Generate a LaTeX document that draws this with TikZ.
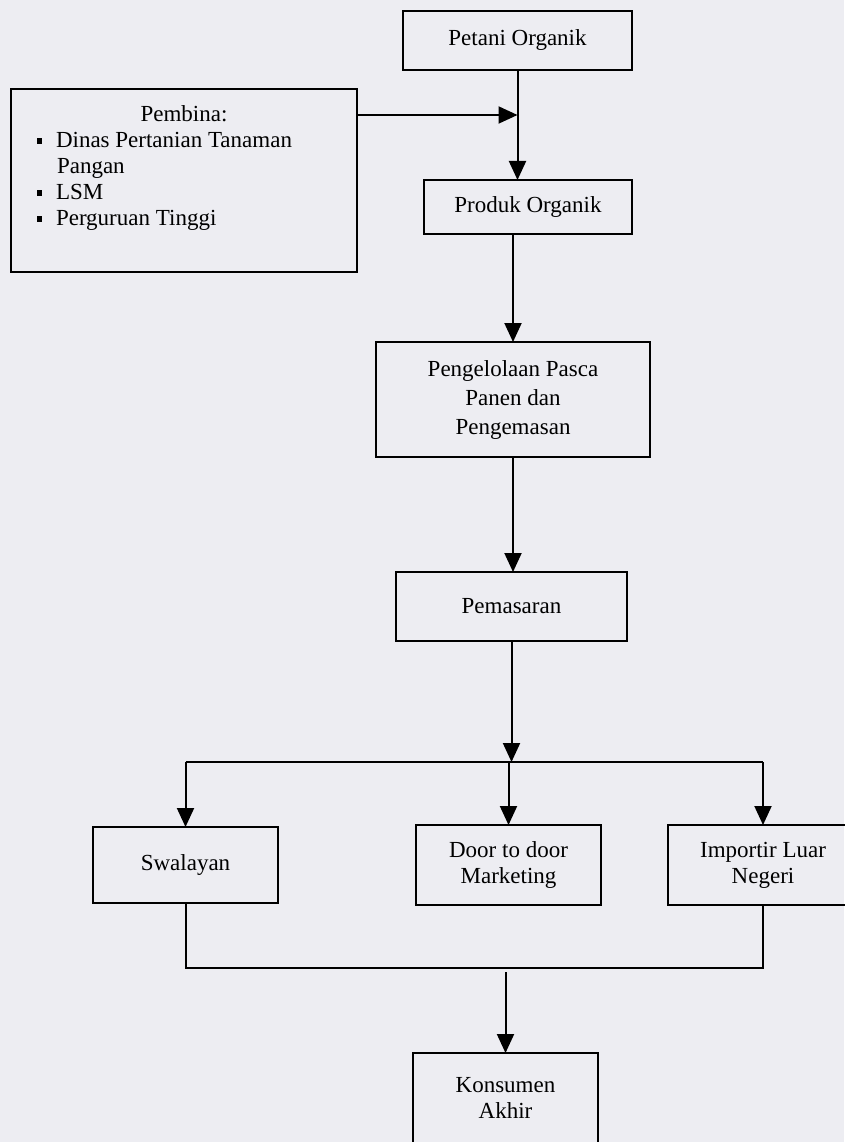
\documentclass[tikz,border=0pt]{standalone}
\usepackage{fontspec}
\setmainfont{Liberation Serif}
\usetikzlibrary{arrows.meta,positioning}

\definecolor{paper}{RGB}{237,237,242}

% one entry of the Pembina list
\newcommand{\pbitem}[1]{\par\noindent\hangindent=26pt\hangafter=1%
  \hspace*{6pt}\makebox[19pt][l]{\raisebox{4pt}{\rule{4.5pt}{6pt}}}#1}

\begin{document}
\begin{tikzpicture}[x=1pt,y=-1pt,>={Triangle[length=19pt,width=17pt]},
    box/.style={draw,line width=2.2pt,align=center,inner sep=0pt,outer sep=0pt,
      font=\fontsize{23}{26}\selectfont},
    link/.style={line width=2pt}]
  \path[fill=paper,use as bounding box] (0,0) rectangle (844,1142);

  \node[box,minimum width=229pt,minimum height=59pt] (petani) at (517.5,40.5) {Petani Organik};
  \node[box,minimum width=346pt,minimum height=183pt] (pembina) at (184,180.5)
    {\parbox[c][149pt][t]{306pt}{{\centering Pembina:\par}
      \pbitem{Dinas Pertanian Tanaman\hfill\break Pangan}
      \pbitem{LSM}
      \pbitem{Perguruan Tinggi}}};
  \node[box,minimum width=208pt,minimum height=54pt] (produk) [below=110pt of petani,xshift=10.5pt] {Produk Organik};
  \node[box,minimum width=274pt,minimum height=115pt,font=\fontsize{23}{29}\selectfont] (pengel) [below=108pt of produk,xshift=-15pt]
    {Pengelolaan Pasca\\Panen dan\\Pengemasan};
  \node[box,minimum width=231pt,minimum height=69pt] (pemas) [below=115pt of pengel,xshift=-1.5pt] {Pemasaran};
  \node[box,minimum width=185pt,minimum height=80pt] (door) [below=184pt of pemas,xshift=-3pt] {Door to door\\Marketing};
  \node[box,minimum width=185pt,minimum height=76pt] (swal) [left=138pt of door] {Swalayan};
  \node[box,minimum width=190pt,minimum height=80pt] (imp) [right=67pt of door] {Importir Luar\\Negeri};
  \node[box,minimum width=185pt,minimum height=90pt] (kons) [below=148pt of door,xshift=-3pt] {Konsumen\\Akhir};

  \coordinate[below=45pt of petani.south] (feed);
  \coordinate[below=121pt of pemas.south] (split);
  \coordinate[below=63pt of door.south] (merge);

  \draw[link,->] (petani.south) -- (petani.south |- produk.north);
  \draw[link,->] (pembina.east |- feed) -- (feed);
  \draw[link,->] (produk.south -| pengel.north) -- (pengel.north);
  \draw[link,->] (pengel.south) -- (pengel.south |- pemas.north);
  \draw[link,->] (pemas.south) -- (split);

  \draw[link] (split -| swal.north) -- (split -| imp.north);
  \path[link,->]
    (split -| swal.north) edge (swal.north)
    (split -| door.north) edge (door.north)
    (split -| imp.north) edge (imp.north)
    ;

  \draw[link] (swal.south) |- (merge) -| (imp.south);
  \draw[link,->,shorten <=4pt] (merge -| kons.north) -- (kons.north);
\end{tikzpicture}
\end{document}
